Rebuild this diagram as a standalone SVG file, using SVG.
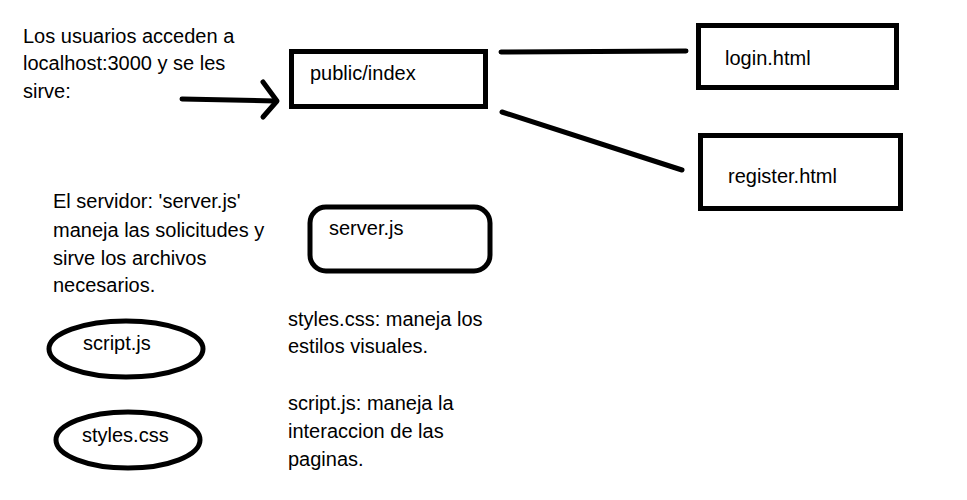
<svg xmlns="http://www.w3.org/2000/svg" width="967" height="500" viewBox="0 0 967 500">
<style>
text{font-family:"Liberation Sans",Arial,sans-serif;font-size:20px;fill:#000}
.b{fill:none;stroke:#000;stroke-width:5}
.c{fill:none;stroke:#000;stroke-width:5;stroke-linecap:round;stroke-linejoin:round}
</style>
<rect width="967" height="500" fill="#fff"/>
<g id="intro">
<text x="23" y="43">Los usuarios acceden a</text>
<text x="23" y="70">localhost:3000 y se les</text>
<text x="23" y="98">sirve:</text>
</g>
<g id="server-desc">
<text x="53" y="208">El servidor: 'server.js'</text>
<text x="53" y="237">maneja las solicitudes y</text>
<text x="53" y="265">sirve los archivos</text>
<text x="53" y="292">necesarios.</text>
</g>
<g id="styles-desc">
<text x="288" y="326">styles.css: maneja los</text>
<text x="288" y="353">estilos visuales.</text>
</g>
<g id="script-desc">
<text x="288" y="410">script.js: maneja la</text>
<text x="288" y="438">interaccion de las</text>
<text x="288" y="466">paginas.</text>
</g>
<g id="connectors">
<path class="c" d="M182 99 L276 101"/>
<path class="c" d="M263 82 L277 101 L263 117"/>
<path class="c" d="M501 52 L686 51"/>
<path class="c" d="M502 112 L682 170"/>
</g>
<g id="public-index">
<rect class="b" x="291.5" y="51.5" width="194" height="55"/>
<text x="310" y="80">public/index</text>
</g>
<g id="login">
<rect class="b" x="698.5" y="25.5" width="198" height="62"/>
<text x="725" y="65">login.html</text>
</g>
<g id="register">
<rect class="b" x="700.5" y="135.5" width="200" height="73"/>
<text x="728" y="183">register.html</text>
</g>
<g id="server">
<rect class="b" x="310" y="207" width="180" height="64" rx="16"/>
<text x="329" y="235">server.js</text>
</g>
<g id="script">
<ellipse class="b" cx="126" cy="349" rx="77" ry="28"/>
<text x="83" y="350">script.js</text>
</g>
<g id="styles">
<ellipse class="b" cx="128" cy="440" rx="72" ry="28"/>
<text x="82" y="442">styles.css</text>
</g>
</svg>
